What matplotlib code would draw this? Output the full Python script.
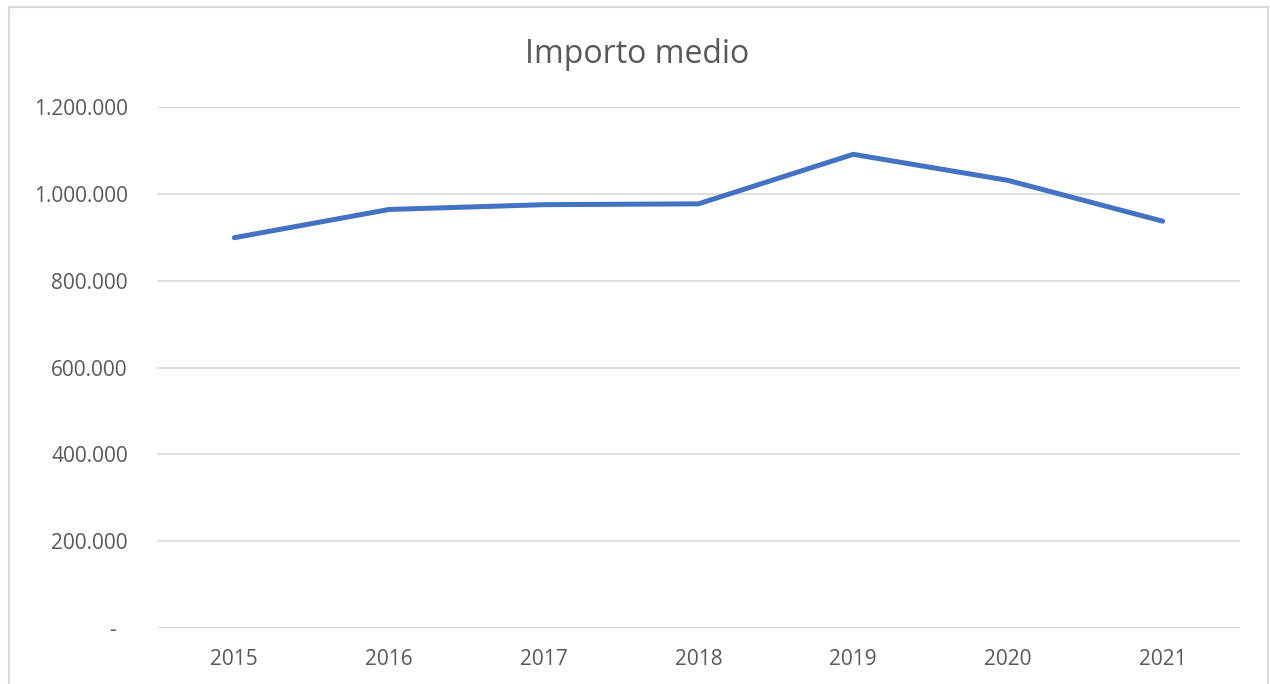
import matplotlib
matplotlib.use("Agg")
import matplotlib.pyplot as plt
from matplotlib.patches import Rectangle

# values
years = ["2015", "2016", "2017", "2018", "2019", "2020", "2021"]
importo_medio = [899000, 964000, 975000, 977000, 1091000, 1031000, 937000]
y_ticks = [0, 200000, 400000, 600000, 800000, 1000000, 1200000]
y_tick_labels = ["-  ", "200.000", "400.000", "600.000", "800.000",
                 "1.000.000", "1.200.000"]

text_color = "#595959"
grid_color = "#D9D9D9"
line_color = "#4472C4"

plt.rcParams["font.family"] = ["Open Sans", "DejaVu Sans"]

W, H = 1270, 684
fig = plt.figure(figsize=(W / 100, H / 100), dpi=100)
ax = fig.add_axes([157 / W, 1 - 628 / H, (1240 - 157) / W, (628 - 107) / H])

x = list(range(len(years)))
ax.plot(x, importo_medio, color=line_color, linewidth=3.6,
        solid_capstyle="round", solid_joinstyle="round", zorder=3)

ax.set_xlim(-0.5, len(years) - 0.5)
ax.set_ylim(0, 1200000)
ax.set_xticks(x)
ax.set_xticklabels(years)
ax.set_yticks(y_ticks)
ax.set_yticklabels(y_tick_labels)
ax.tick_params(axis="both", length=0, labelsize=15, labelcolor=text_color)
ax.tick_params(axis="y", pad=21)
ax.tick_params(axis="x", pad=15)

ax.grid(axis="y", color=grid_color, linewidth=1.2)
ax.set_axisbelow(True)
for s in ax.spines.values():
    s.set_visible(False)

fig.text(637.5 / W, 1 - 63 / H, "Importo medio", ha="center", va="baseline",
         fontsize=23, color=text_color)

# light chart frame like the spreadsheet export
fig.patches.append(Rectangle((9 / W, -0.05), (1268 - 9) / W, 1.05 - 7 / H,
                             transform=fig.transFigure, fill=False,
                             edgecolor=grid_color, linewidth=1.5))

fig.savefig("out.png", dpi=100)
